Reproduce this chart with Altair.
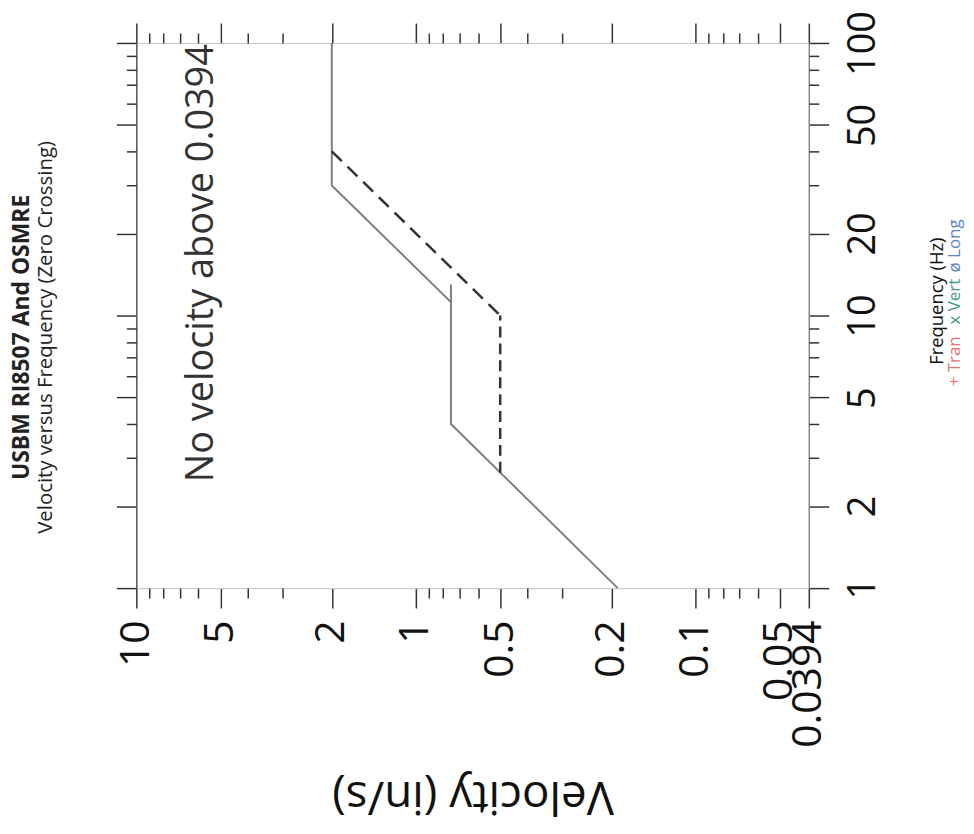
import altair as alt
import pandas as pd

# ---- data ----
solid_freq = [1, 4, 13, 11.2, 30, 100]
solid_vel = [0.19, 0.75, 0.75, 0.75, 2, 2]
long_dash_freq = [10, 40]
long_dash_vel = [0.5, 2]
short_dash_freq = [2.65, 10]
short_dash_vel = [0.5, 0.5]

vel_major = [10, 5, 2, 1, 0.5, 0.2, 0.1, 0.05, 0.0394]
vel_minor = [9, 8, 7, 6, 4, 3, 0.9, 0.8, 0.7, 0.6, 0.4, 0.3, 0.09, 0.08, 0.07, 0.06]
freq_major = [1, 2, 5, 10, 20, 50, 100]
freq_minor = [3, 4, 6, 7, 8, 9, 30, 40, 60, 70, 80, 90]

note_text = ["No velocity above 0.0394"]
note_vel = [5.3]
note_freq = [99]

legend_labels = ["+ Tran", "x Vert", "ø Long"]
legend_colors = ["#e8706f", "#3c9f7d", "#5a84c8"]

FONT = "Open Sans"

df_solid = pd.DataFrame({"freq": solid_freq, "vel": solid_vel, "idx": list(range(len(solid_freq)))})
df_long = pd.DataFrame({"freq": long_dash_freq, "vel": long_dash_vel})
df_short = pd.DataFrame({"freq": short_dash_freq, "vel": short_dash_vel})
df_note = pd.DataFrame({"freq": note_freq, "vel": note_vel, "text": note_text})

xs = alt.Scale(type="log", domain=[0.0394, 10], reverse=True, nice=False)
ys = alt.Scale(type="log", domain=[1, 100], nice=False)

TICK = "#333333"

ax_bottom_major = alt.Axis(orient="bottom", values=vel_major, format="~g", tickSize=20, tickWidth=1.5,
                           tickColor=TICK, domainColor="#c8c8c8", grid=False,
                           labelAngle=270, labelAlign="right", labelBaseline="middle",
                           labelFontSize=41, labelFont=FONT, labelColor="#111111",
                           labelPadding=12, labelOverlap=False, labelFlush=False,
                           title="Velocity (in/s)", titleAngle=180, titleBaseline="bottom",
                           titleFontSize=46, titleFont=FONT, titleFontWeight="normal",
                           titleColor="#111111", titlePadding=24)
ax_bottom_minor = alt.Axis(orient="bottom", values=vel_minor, tickSize=10, tickWidth=1.5,
                           tickColor=TICK, domain=False, grid=False, labels=False, title="")
ax_top_major = alt.Axis(orient="top", values=vel_major, tickSize=20, tickWidth=1.5,
                        tickColor=TICK, domainColor="#c8c8c8", grid=False, labels=False, title="")
ax_top_minor = alt.Axis(orient="top", values=vel_minor, tickSize=10, tickWidth=1.5,
                        tickColor=TICK, domain=False, grid=False, labels=False, title="")

ay_right_major = alt.Axis(orient="right", values=freq_major, format="~g", tickSize=20, tickWidth=1.5,
                          tickColor=TICK, domainColor="#888888", domainWidth=1.5, grid=False,
                          labelAngle=270, labelAlign="center", labelBaseline="top",
                          labelFontSize=38, labelFont=FONT, labelColor="#111111",
                          labelPadding=16, labelOverlap=False, labelFlush=False,
                          title="Frequency (Hz)", titleAngle=270, titleAlign="center",
                          titleBaseline="middle", titleX=128, titleY=259,
                          titleFontSize=18.5, titleFont=FONT, titleFontWeight="normal",
                          titleColor="#111111")
ay_right_minor = alt.Axis(orient="right", values=freq_minor, tickSize=10, tickWidth=1.5,
                          tickColor=TICK, domain=False, grid=False, labels=False, title="")
ay_left_major = alt.Axis(orient="left", values=freq_major, tickSize=20, tickWidth=1.5,
                         tickColor=TICK, domainColor="#555555", domainWidth=1.5, grid=False,
                         labels=False, title="")
ay_left_minor = alt.Axis(orient="left", values=freq_minor, tickSize=10, tickWidth=1.5,
                         tickColor=TICK, domain=False, grid=False, labels=False, title="")

solid = alt.Chart(df_solid).mark_line(color="#808080", strokeWidth=2).encode(
    x=alt.X("vel:Q", scale=xs, axis=ax_bottom_major),
    y=alt.Y("freq:Q", scale=ys, axis=ay_right_major),
    order=alt.Order("idx:Q"),
)
long_dash = alt.Chart(df_long).mark_line(color="#333333", strokeWidth=2.5, strokeDash=[14, 8]).encode(
    x=alt.X("vel:Q", scale=xs, axis=ax_bottom_minor),
    y=alt.Y("freq:Q", scale=ys, axis=ay_right_minor),
)
short_dash = alt.Chart(df_short).mark_line(color="#333333", strokeWidth=2.5, strokeDash=[11, 6]).encode(
    x=alt.X("vel:Q", scale=xs, axis=ax_top_major),
    y=alt.Y("freq:Q", scale=ys, axis=ay_left_major),
)
note = alt.Chart(df_note).mark_text(angle=270, align="right", baseline="alphabetic",
                                    fontSize=38, font=FONT, color="#333333").encode(
    x=alt.X("vel:Q", scale=xs, axis=ax_top_minor),
    y=alt.Y("freq:Q", scale=ys, axis=ay_left_minor),
    text="text:N",
)

legend_y = [320, 260, 204]
legend_layers = []
for lab, col, yy in zip(legend_labels, legend_colors, legend_y):
    legend_layers.append(
        alt.Chart(pd.DataFrame({"t": [lab]})).mark_text(
            angle=270, align="center", baseline="middle", fontSize=17, font=FONT, color=col
        ).encode(x=alt.value(823), y=alt.value(yy), text="t:N")
    )

chart = alt.layer(solid, long_dash, short_dash, note, *legend_layers).resolve_axis(
    x="independent", y="independent"
).properties(
    width=676,
    height=548,
    autosize=alt.AutoSizeParams(type="none"),
    padding={"left": 129, "top": 33, "right": 158, "bottom": 240},
    title=alt.TitleParams(
        text="USBM RI8507 And OSMRE",
        subtitle="Velocity versus Frequency (Zero Crossing)",
        orient="left", anchor="middle", frame="group",
        font=FONT, fontSize=23, fontWeight="bold", color="#222222",
        subtitleFont=FONT, subtitleFontSize=20.5, subtitleColor="#222222",
        subtitlePadding=2, offset=59, dx=-22,
    ),
).configure_view(strokeWidth=0).configure(background="white")

chart.save("out.html", embed_options={"renderer": "svg", "actions": False})
